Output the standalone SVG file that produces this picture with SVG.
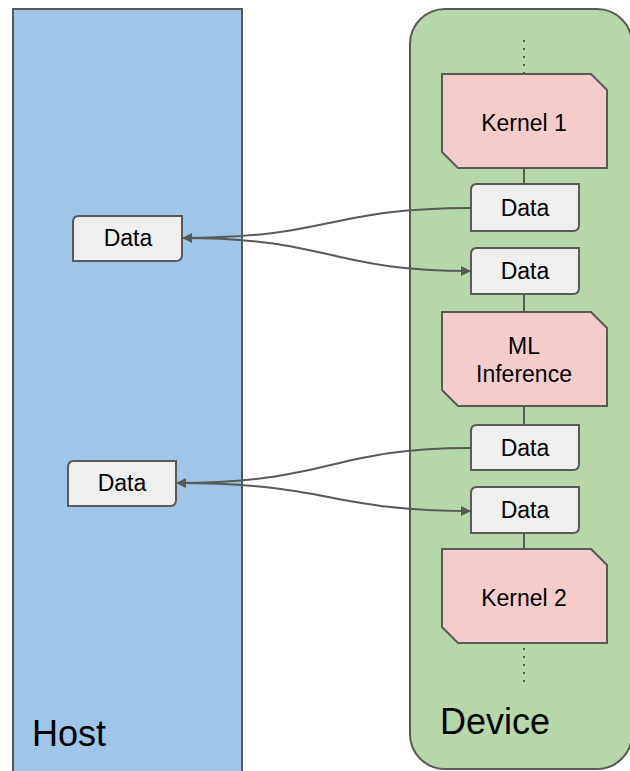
<svg xmlns="http://www.w3.org/2000/svg" width="630" height="771" viewBox="0 0 630 771">
<style>
.lane{stroke:#595959;stroke-width:2}
.k{fill:#f4cccc;stroke:#595959;stroke-width:2}
.d{fill:#efefef;stroke:#595959;stroke-width:2}
text{font-family:"Liberation Sans",Arial,sans-serif;fill:#000;text-anchor:middle}
.t{font-size:23px}
.big{font-size:36px;text-anchor:start}
.c{fill:none;stroke:#595959;stroke-width:2}
.dot{fill:none;stroke:#595959;stroke-width:2;stroke-dasharray:2 6}
</style>
<defs>
<marker id="ah" viewBox="0 0 10 10" refX="9" refY="5" markerWidth="10" markerHeight="10" markerUnits="userSpaceOnUse" orient="auto">
<path d="M0,0 L10,5 L0,10 Z" fill="#595959"/>
</marker>
</defs>
<g id="host">
<rect x="13" y="9" width="229" height="800" fill="#9fc5e8" class="lane"/>
<text x="32" y="746" class="big">Host</text>
</g>
<g id="device">
<rect x="410" y="9" width="222" height="760" rx="35" fill="#b6d7a8" class="lane"/>
<text x="440" y="734" class="big">Device</text>
</g>
<g id="connectors">
<path class="dot" d="M524,40 V74"/>
<path class="dot" d="M524,648 V683"/>
<path class="c" d="M524,168 V184"/>
<path class="c" d="M524,294 V312"/>
<path class="c" d="M524,406 V425"/>
<path class="c" d="M524,533 V549"/>
<path class="c" d="M471,208 C330,208 330,238 183,238" marker-end="url(#ah)"/>
<path class="c" d="M183,238 C330,238 330,271 470,271" marker-end="url(#ah)"/>
<path class="c" d="M471,448 C330,448 330,483 177,483" marker-end="url(#ah)"/>
<path class="c" d="M177,483 C330,483 330,511 470,511" marker-end="url(#ah)"/>
</g>
<g id="kernel1">
<path class="k" d="M442,74 H591 L607,90 V168 H458 L442,152 Z"/>
<text x="524" y="131" class="t">Kernel 1</text>
</g>
<g id="ml">
<path class="k" d="M442,312 H591 L607,328 V406 H458 L442,390 Z"/>
<text x="524" y="354" class="t">ML</text>
<text x="524" y="382" class="t">Inference</text>
</g>
<g id="kernel2">
<path class="k" d="M442,549 H591 L607,565 V643 H458 L442,627 Z"/>
<text x="524" y="606" class="t">Kernel 2</text>
</g>
<g id="dev-data1">
<path class="d" d="M477,184 H579 V225 Q579,231 573,231 H471 V190 Q471,184 477,184 Z"/>
<text x="525" y="216" class="t">Data</text>
</g>
<g id="dev-data2">
<path class="d" d="M477,248 H579 V288 Q579,294 573,294 H471 V254 Q471,248 477,248 Z"/>
<text x="525" y="279" class="t">Data</text>
</g>
<g id="dev-data3">
<path class="d" d="M477,425 H579 V464 Q579,470 573,470 H471 V431 Q471,425 477,425 Z"/>
<text x="525" y="456" class="t">Data</text>
</g>
<g id="dev-data4">
<path class="d" d="M477,487 H579 V527 Q579,533 573,533 H471 V493 Q471,487 477,487 Z"/>
<text x="525" y="518" class="t">Data</text>
</g>
<g id="host-data1">
<path class="d" d="M79,216 H182 V255 Q182,261 176,261 H73 V222 Q73,216 79,216 Z"/>
<text x="128" y="246" class="t">Data</text>
</g>
<g id="host-data2">
<path class="d" d="M74,461 H176 V500 Q176,506 170,506 H68 V467 Q68,461 74,461 Z"/>
<text x="122" y="491" class="t">Data</text>
</g>
</svg>
